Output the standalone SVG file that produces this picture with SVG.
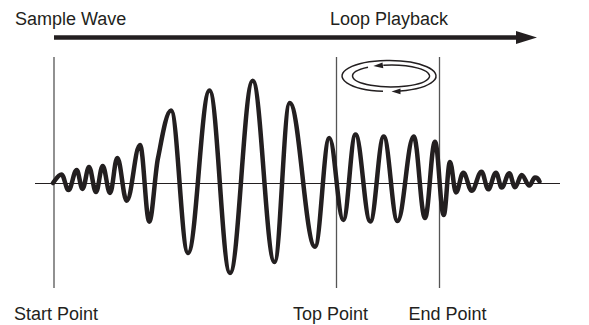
<svg xmlns="http://www.w3.org/2000/svg" width="589" height="325" viewBox="0 0 589 325">
  <style>
    .lbl { font-family: "Liberation Sans", Arial, sans-serif; font-size: 18px; fill: #231f20; }
    .guide { stroke: #555; stroke-width: 1.3; fill: none; }
    .axis { stroke: #231f20; stroke-width: 1.2; fill: none; }
    .wave { stroke: #231f20; stroke-width: 4.5; fill: none; stroke-linecap: round; stroke-linejoin: round; }
    .loop { stroke: #231f20; stroke-width: 1.5; fill: none; }
    .head { fill: #231f20; }
  </style>
  <rect width="589" height="325" fill="#fff"/>

  <g id="labels">
    <text class="lbl" x="15" y="24.5">Sample Wave</text>
    <text class="lbl" x="330" y="24.5">Loop Playback</text>
    <text class="lbl" x="14" y="319.5">Start Point</text>
    <text class="lbl" x="293" y="319.5">Top Point</text>
    <text class="lbl" x="408.5" y="319.5">End Point</text>
  </g>

  <g id="connectors">
    <line x1="54" y1="37.5" x2="519" y2="37.5" stroke="#231f20" stroke-width="4.5"/>
    <polygon class="head" points="516,31 537,37.5 516,44"/>
  </g>

  <g id="guides">
    <line class="guide" x1="54" y1="57" x2="54" y2="288"/>
    <line class="guide" x1="336.5" y1="57" x2="336.5" y2="288"/>
    <line class="guide" x1="439.5" y1="57" x2="439.5" y2="288"/>
    <line class="axis" x1="35" y1="183.5" x2="560" y2="183.5"/>
  </g>

  <g id="loop-symbol">
    <path class="loop" d="M 383,91.37 A 47 15.5 0 1 1 400,91.07"/>
    <polygon class="head" points="391.5,91.4 400.5,88.4 400.5,94.2"/>
    <path class="loop" d="M 368,67.18 A 38.5 11 0 1 0 383.3,65.22"/>
    <polygon class="head" points="373.3,66.1 382.5,62.4 383.3,68.2"/>
  </g>

  <g id="wave">
    <path class="wave" d="M 53,183 C 56,179 58.5,174.5 61.5,174.5
      C 64.16,174.5 65.84,190 68.5,190
      C 71.62,190 73.58,170 76.7,170
      C 78.9,170 80.3,189 82.5,189
      C 84.97,189 86.53,167 89,167
      C 91.66,167 93.34,192 96,192
      C 98.55,192 100.15,166 102.7,166
      C 105.47,166 107.23,193 110,193
      C 112.77,193 114.53,158 117.3,158
      C 120.87,158 123.13,200.7 126.7,200.7
      C 131.75,200.7 134.95,145 140,145
      C 143.53,145 145.77,221.7 149.3,221.7
      C 152.3,221.7 155,172 158,158
      C 161,144 166,110.5 171,110.5
      C 177.46,110.5 181.54,253 188,253
      C 196.17,253 201.33,90.5 209.5,90.5
      C 217.29,90.5 222.21,273 230,273
      C 238.63,273 244.07,80.7 252.7,80.7
      C 260.98,80.7 266.22,262 274.5,262
      C 280.28,262 283.92,103 289.7,103
      C 299.31,103 305.39,246.7 315,246.7
      C 320.43,246.7 323.87,138 329.3,138
      C 334.62,138 337.98,220 343.3,220
      C 347.94,220 350.86,134.5 355.5,134.5
      C 361.12,134.5 364.68,221.5 370.3,221.5
      C 375.39,221.5 378.61,136.5 383.7,136.5
      C 388.94,136.5 392.26,221 397.5,221
      C 403.66,221 407.54,136.5 413.7,136.5
      C 417.99,136.5 420.71,218 425,218
      C 428.8,218 431.2,141.7 435,141.7
      C 438.31,141.7 440.39,215 443.7,215
      C 446.09,215 447.61,162 450,162
      C 452.28,162 453.72,192.5 456,192.5
      C 458.77,192.5 460.53,172.7 463.3,172.7
      C 466.49,172.7 468.51,190.7 471.7,190.7
      C 475.42,190.7 477.78,171.7 481.5,171.7
      C 484.08,171.7 485.72,189.3 488.3,189.3
      C 490.93,189.3 493.07,172.7 496,172.7
      C 498.17,172.7 499.53,187.5 501.7,187.5
      C 504.59,187.5 506.41,173.3 509.3,173.3
      C 511.47,173.3 512.83,187.3 515,187.3
      C 517.55,187.3 519.15,175 521.7,175
      C 524.59,175 526.41,185.5 529.3,185.5
      C 531.47,185.5 532.83,177.5 535,177.5
      C 537,177.5 538.5,179 539.5,181.5"/>
  </g>
</svg>
